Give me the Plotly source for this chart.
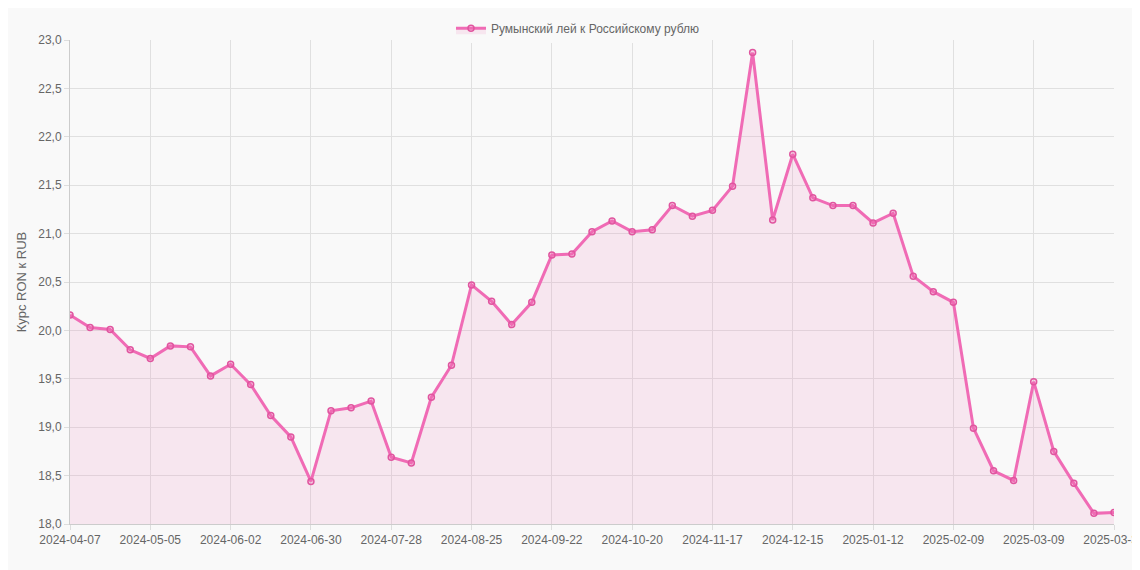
import plotly.graph_objects as go
import pandas as pd

dates = [d.strftime("%Y-%m-%d") for d in pd.date_range("2024-04-07", periods=52, freq="7D")] + ["2025-03-31"]
values = [20.16,20.03,20.01,19.80,19.71,19.84,19.83,19.53,19.65,19.44,19.12,18.90,18.44,19.17,19.20,19.27,
          18.69,18.63,19.31,19.64,20.47,20.30,20.06,20.29,20.78,20.79,21.02,21.13,21.02,21.04,21.29,21.18,
          21.24,21.49,22.87,21.14,21.82,21.37,21.29,21.29,21.11,21.21,20.56,20.40,20.29,18.99,18.55,18.45,
          19.47,18.75,18.42,18.11,18.12]
tick_labels = dates[::4] + [dates[-1]]

fig = go.Figure(go.Scatter(
    x=dates, y=values, mode="lines+markers", name="Румынский лей к Российскому рублю",
    line=dict(color="#f06bb5", width=3),
    marker=dict(size=6, color="rgba(240,107,181,0.25)", line=dict(color="#e0559f", width=1.5)),
    fill="tozeroy", fillcolor="rgba(240,107,181,0.13)"))
fig.update_layout(
    width=1140, height=570, separators=", ",
    paper_bgcolor="#f9f9f9", plot_bgcolor="#f9f9f9",
    margin=dict(l=62, r=34, t=32, b=54, autoexpand=False),
    font=dict(family="Liberation Sans, Arial", size=12, color="#666"),
    showlegend=True,
    legend=dict(orientation="h", x=0.5, xanchor="center", xref="container",
                y=0.99, yanchor="top", yref="container", font=dict(size=12)),
    xaxis=dict(type="category", tickvals=tick_labels, ticktext=tick_labels, showgrid=True, automargin=False,
               gridcolor="#e0e0e0", linecolor="#ccc", ticks="outside", tickcolor="#ddd", tickangle=0,
               range=[0, len(dates)-1]),
    yaxis=dict(range=[18, 23], dtick=0.5, tickformat=".1f", showgrid=True, gridcolor="#e0e0e0", automargin=False,
               linecolor="#ccc", title=dict(text="Курс RON к RUB", font=dict(size=13), standoff=8),
               ticks="outside", tickcolor="#ddd"),
)
fig.write_html("out.html")
